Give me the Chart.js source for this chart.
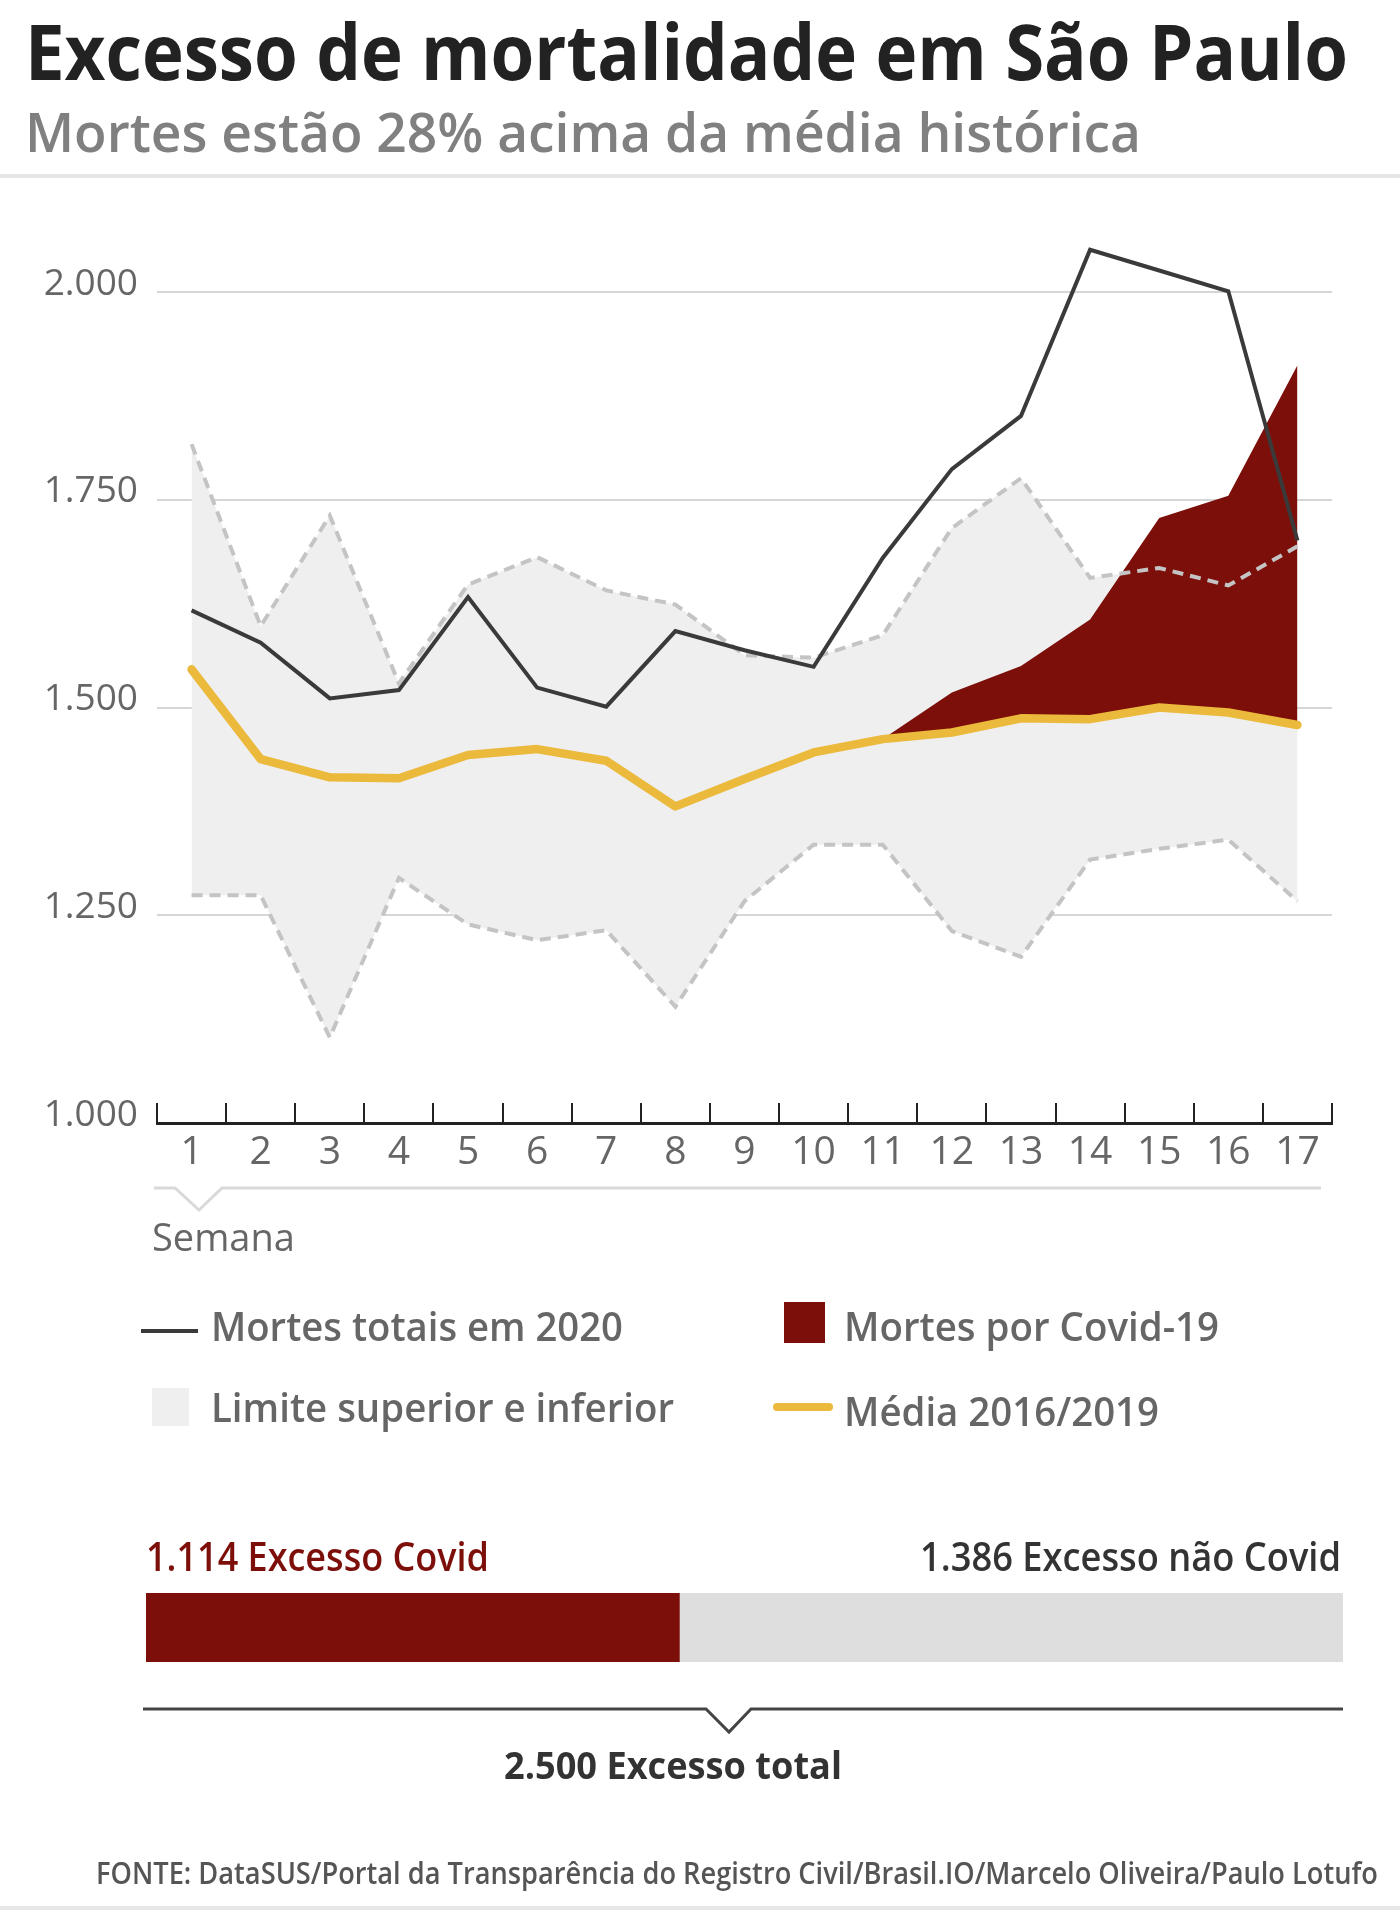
<!DOCTYPE html>
<html lang="pt-br">
<head>
<meta charset="UTF-8">
<title>Excesso de mortalidade em São Paulo</title>
<script src="https://cdn.jsdelivr.net/npm/chart.js"></script>
<style>
  body { margin: 0; width: 1400px; height: 1919px; background: #fff; position: relative; overflow: hidden; font-family: 'Open Sans', sans-serif; }
  .t { position: absolute; white-space: nowrap; line-height: 1; transform-origin: left top; }
  .sb { font-weight: 600; }
  .box { position: absolute; }
  #grafico { position: absolute; left: 0; top: 180px; }
  #barra { position: absolute; left: 146px; top: 1593px; }
  svg { position: absolute; left: 0; top: 0; }
</style>
</head>
<body>
  <div class="t" data-w="1323" style="left:25px; top:12px; font-size:77px; font-weight:700; color:#222;">Excesso de mortalidade em São Paulo</div>
  <div class="t sb" data-w="1116" style="left:25px; top:103px; font-size:55px; color:#808080;">Mortes estão 28% acima da média histórica</div>
  <div class="box" style="left:0; top:174px; width:1400px; height:4px; background:#e6e6e6;"></div>

  <canvas id="grafico" width="1400" height="1010"></canvas>

  <svg width="1400" height="1919">
    <polyline points="154,1188 175,1188 199,1210 222,1188 1321,1188" fill="none" stroke="#d9d9d9" stroke-width="3"/>
    <polyline points="143,1709 706,1709 729,1732 751,1709 1343,1709" fill="none" stroke="#444" stroke-width="3"/>
  </svg>
  <div class="t" style="left:152px; top:1217px; font-size:38px; color:#666;">Semana</div>

  <!-- legenda -->
  <div class="box" style="left:141px; top:1329px; width:57px; height:4px; background:#3a3a3a;"></div>
  <div class="t sb" data-w="412" style="left:211px; top:1306px; font-size:39px; color:#666;">Mortes totais em 2020</div>
  <div class="box" style="left:784px; top:1302px; width:41px; height:41px; background:#7d0f0a;"></div>
  <div class="t sb" data-w="375" style="left:844px; top:1306px; font-size:39px; color:#666;">Mortes por Covid-19</div>
  <div class="box" style="left:152px; top:1388px; width:37px; height:38px; background:#efefef;"></div>
  <div class="t sb" data-w="463" style="left:211px; top:1387px; font-size:39px; color:#666;">Limite superior e inferior</div>
  <div class="box" style="left:773px; top:1403px; width:60px; height:8px; border-radius:4px; background:#ebb93b;"></div>
  <div class="t sb" data-w="315" style="left:844px; top:1391px; font-size:39px; color:#666;">Média 2016/2019</div>

  <!-- barra de excesso -->
  <div class="t sb" id="rotCovid" data-w="343" style="left:146px; top:1536px; font-size:40px; color:#7d0f0a;"></div>
  <div class="t sb" id="rotNaoCovid" data-w="421" style="left:920px; top:1536px; font-size:40px; color:#333;"></div>
  <canvas id="barra" width="1197" height="69"></canvas>
  <div class="t" id="rotTotal" data-w="338" style="left:504px; top:1745px; font-size:38px; font-weight:700; color:#333;"></div>

  <div class="t sb" data-w="1282" style="left:96px; top:1857px; font-size:31px; color:#555;">FONTE: DataSUS/Portal da Transparência do Registro Civil/Brasil.IO/Marcelo Oliveira/Paulo Lotufo</div>
  <div class="box" style="left:0; top:1906px; width:1400px; height:4px; background:#e6e6e6;"></div>

<script>
// dados
var semanas = ['1', '2', '3', '4', '5', '6', '7', '8', '9', '10', '11', '12', '13', '14', '15', '16', '17'];
var mortes2020 = [1617, 1578, 1511, 1521, 1633, 1524, 1501, 1592, 1569, 1549, 1680, 1787, 1851, 2051, 2026, 2001, 1701];
var limiteSuperior = [1817, 1598, 1731, 1529, 1648, 1681, 1641, 1624, 1563, 1560, 1587, 1716, 1776, 1656, 1668, 1647, 1694];
var limiteInferior = [1274, 1274, 1103, 1295, 1239, 1220, 1232, 1140, 1267, 1335, 1335, 1231, 1200, 1317, 1330, 1341, 1267];
var media = [1546, 1438, 1416, 1415, 1443, 1450, 1436, 1381, 1414, 1446, 1462, 1470, 1487, 1486, 1500, 1494, 1479];
var mortesCovid = [null, null, null, null, null, null, null, null, null, null, 0, 48, 63, 120, 228, 261, 433];
var marcasY = [1000, 1250, 1500, 1750, 2000];

var excessoCovid = 1114;
var excessoNaoCovid = 1386;

function milhar(v) {
    return String(v).replace(/\B(?=(\d{3})+(?!\d))/g, '.');
}

// topo da área de Covid = média + mortes por Covid
var covidTopo = media.map(function(m, i) {
    return mortesCovid[i] === null ? null : m + mortesCovid[i];
});

Chart.defaults.font.family = "'Open Sans', sans-serif";

new Chart(document.getElementById('grafico'), {
    type: 'line',
    data: {
        labels: semanas,
        datasets: [
            { label: 'Mortes totais em 2020', data: mortes2020, borderColor: '#3a3a3a', borderWidth: 4, fill: false },
            { label: 'Média 2016/2019', data: media, borderColor: '#ebb93b', borderWidth: 8.5, borderCapStyle: 'round', borderJoinStyle: 'round', fill: false },
            { label: 'Mortes por Covid-19', data: covidTopo, borderColor: 'rgba(0,0,0,0)', borderWidth: 1, backgroundColor: '#7d0f0a', fill: 1 },
            { label: 'Limite inferior', data: limiteInferior, borderColor: '#c4c4c4', borderWidth: 4, borderDash: [11, 7], fill: false },
            { label: 'Limite superior', data: limiteSuperior, borderColor: '#c4c4c4', borderWidth: 4, borderDash: [11, 7], backgroundColor: '#efefef', fill: 3 }
        ]
    },
    options: {
        responsive: false,
        animation: false,
        layout: { padding: { top: 29, right: 68, left: 0, bottom: 0 } },
        elements: { point: { radius: 0 }, line: { tension: 0 } },
        plugins: {
            legend: { display: false },
            tooltip: { enabled: false },
            filler: { drawTime: 'beforeDatasetsDraw' }
        },
        scales: {
            x: {
                offset: true,
                grid: { display: true, offset: true, drawOnChartArea: false, drawTicks: true, tickLength: -20, color: '#222', lineWidth: 2 },
                border: { display: true, color: '#222', width: 3 },
                ticks: { color: '#666', font: { size: 39 }, padding: 26, maxRotation: 0, autoSkip: false },
                afterFit: function(s) { s.height = 67; s.paddingLeft = 0; s.paddingRight = 0; }
            },
            y: {
                min: 1000,
                max: 2100,
                afterBuildTicks: function(s) { s.ticks = marcasY.map(function(v) { return { value: v }; }); },
                grid: {
                    color: function(c) { return c.tick && c.tick.value === 1000 ? 'rgba(0,0,0,0)' : '#d6d6d6'; },
                    lineWidth: 2,
                    drawTicks: false
                },
                border: { display: false },
                ticks: { color: '#666', font: { size: 37 }, padding: 19, labelOffset: -8, callback: function(v) { return milhar(v); } },
                afterFit: function(s) { s.width = 157; s.paddingTop = 0; s.paddingBottom = 0; }
            }
        }
    }
});

new Chart(document.getElementById('barra'), {
    type: 'bar',
    data: {
        labels: ['Excesso'],
        datasets: [
            { label: 'Excesso Covid', data: [excessoCovid], backgroundColor: '#7d0f0a' },
            { label: 'Excesso não Covid', data: [excessoNaoCovid], backgroundColor: '#dedede' }
        ]
    },
    options: {
        indexAxis: 'y',
        responsive: false,
        animation: false,
        layout: { padding: 0 },
        plugins: { legend: { display: false }, tooltip: { enabled: false } },
        datasets: { bar: { barPercentage: 1, categoryPercentage: 1, borderWidth: 0 } },
        scales: {
            x: { stacked: true, display: false, min: 0, max: excessoCovid + excessoNaoCovid },
            y: { stacked: true, display: false }
        }
    }
});

document.getElementById('rotCovid').textContent = milhar(excessoCovid) + ' Excesso Covid';
document.getElementById('rotNaoCovid').textContent = milhar(excessoNaoCovid) + ' Excesso não Covid';
document.getElementById('rotTotal').textContent = milhar(excessoCovid + excessoNaoCovid) + ' Excesso total';

// textos condensados: ajusta a largura ao original
function ajustar() {
    document.querySelectorAll('[data-w]').forEach(function(el) {
        el.style.transform = '';
        var w = el.getBoundingClientRect().width;
        el.style.transform = 'scaleX(' + (parseFloat(el.dataset.w) / w) + ')';
    });
}
ajustar();
if (document.fonts && document.fonts.ready) document.fonts.ready.then(ajustar);
</script>
</body>
</html>
